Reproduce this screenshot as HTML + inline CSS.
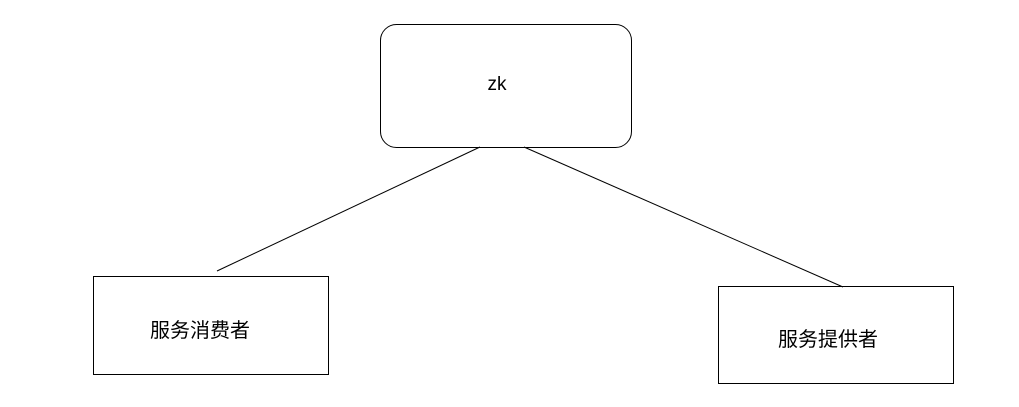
<!DOCTYPE html>
<html><head><meta charset="utf-8"><style>
html,body{margin:0;padding:0;background:#fff;width:1019px;height:407px;overflow:hidden}
svg text{font-family:"Liberation Sans","Noto Sans CJK SC",sans-serif;fill:#000}
</style></head><body>
<svg width="1019" height="407" viewBox="0 0 1019 407">
<rect x="380.5" y="24.5" width="251" height="123" rx="16" ry="16" fill="#fff" stroke="#000" stroke-width="1"/>
<text x="497" y="90" font-size="19" text-anchor="middle">zk</text>
<rect x="93.5" y="276.5" width="235" height="98" fill="#fff" stroke="#000" stroke-width="1"/>
<text x="200" y="337" font-size="20" text-anchor="middle">服务消费者</text>
<rect x="718.5" y="286.5" width="235" height="97" fill="#fff" stroke="#000" stroke-width="1"/>
<text x="828" y="346" font-size="20" text-anchor="middle">服务提供者</text>
<line x1="480" y1="147" x2="217" y2="271" stroke="#000" stroke-width="1"/>
<line x1="524" y1="147" x2="843" y2="287" stroke="#000" stroke-width="1"/>
</svg>
</body></html>
